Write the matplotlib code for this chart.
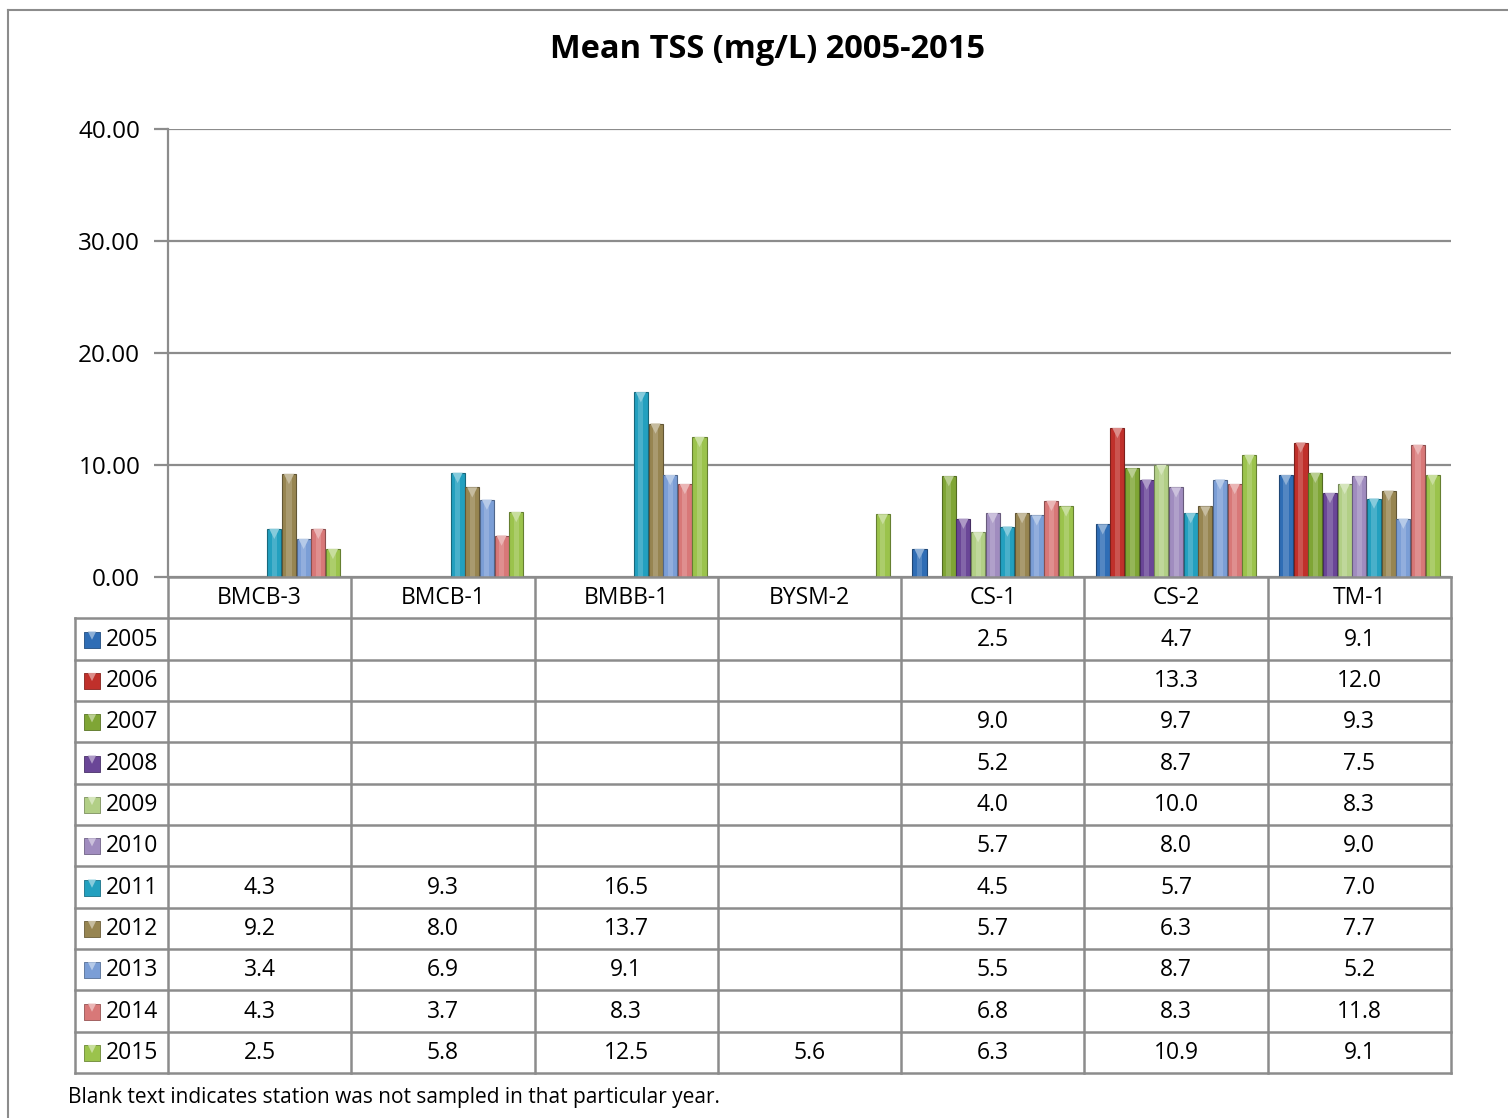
import numpy as np
import matplotlib.pyplot as plt
from matplotlib.colors import to_rgb

plt.rcParams['font.family'] = ['Open Sans', 'DejaVu Sans']

nan = np.nan
stations = ['BMCB-3', 'BMCB-1', 'BMBB-1', 'BYSM-2', 'CS-1', 'CS-2', 'TM-1']
years = ['2005', '2006', '2007', '2008', '2009', '2010',
         '2011', '2012', '2013', '2014', '2015']

tss_2005 = [nan, nan, nan, nan, 2.5, 4.7, 9.1]
tss_2006 = [nan, nan, nan, nan, nan, 13.3, 12.0]
tss_2007 = [nan, nan, nan, nan, 9.0, 9.7, 9.3]
tss_2008 = [nan, nan, nan, nan, 5.2, 8.7, 7.5]
tss_2009 = [nan, nan, nan, nan, 4.0, 10.0, 8.3]
tss_2010 = [nan, nan, nan, nan, 5.7, 8.0, 9.0]
tss_2011 = [4.3, 9.3, 16.5, nan, 4.5, 5.7, 7.0]
tss_2012 = [9.2, 8.0, 13.7, nan, 5.7, 6.3, 7.7]
tss_2013 = [3.4, 6.9, 9.1, nan, 5.5, 8.7, 5.2]
tss_2014 = [4.3, 3.7, 8.3, nan, 6.8, 8.3, 11.8]
tss_2015 = [2.5, 5.8, 12.5, 5.6, 6.3, 10.9, 9.1]

series = [tss_2005, tss_2006, tss_2007, tss_2008, tss_2009, tss_2010,
          tss_2011, tss_2012, tss_2013, tss_2014, tss_2015]

colors = ['#2f6db5', '#c0302b', '#7fa535', '#6a4697', '#b2cf86', '#a08cbf',
          '#23a0bf', '#978551', '#7b9ed6', '#d87878', '#9bc34c']

yticks = [0, 10, 20, 30, 40]


def shade(c, f):
    r = np.array(to_rgb(c))
    if f < 0:
        return tuple(r * (1 + f))
    return tuple(r + (1 - r) * f)


W, H = 1508, 1118
fig = plt.figure(figsize=(W / 100, H / 100), dpi=100)


def box(x0, y0, x1, y1):
    return [x0 / W, 1 - y1 / H, (x1 - x0) / W, (y1 - y0) / H]


# outer frame (top and left edges)
fig.add_artist(plt.Line2D([8 / W, 8 / W], [0, 1 - 10 / H], color='#8c8c8c', lw=1.5))
fig.add_artist(plt.Line2D([8 / W, 1], [1 - 10 / H, 1 - 10 / H], color='#8c8c8c', lw=1.5))

fig.text(768 / W, 1 - 50 / H, 'Mean TSS (mg/L) 2005-2015', ha='center', va='center',
         fontsize=23.5, fontweight='bold')

# --- bar chart ---
ax = fig.add_axes(box(168, 129, 1451, 577))
ax.set_xlim(0, len(stations))
ax.set_ylim(0, 40)
ngrp = len(years)
bw = 1 / (ngrp + 1.5)
for k, vals in enumerate(series):
    x = np.arange(len(stations)) + 0.75 * bw + (k + 0.5) * bw
    v = np.array(vals)
    ok = ~np.isnan(v)
    c = colors[k]
    ax.bar(x[ok], v[ok], width=bw * 0.96, color=c, edgecolor=shade(c, -0.35),
           linewidth=0.8, zorder=3)
    # lighter centre strip for a rounded look
    ax.bar(x[ok], v[ok] - 0.25, width=bw * 0.35, color=shade(c, 0.25),
           linewidth=0, zorder=4, alpha=0.7)
    ax.scatter(x[ok], v[ok] - 0.45, marker='v', s=55, color=shade(c, 0.45),
               edgecolors='none', zorder=5)

ax.set_yticks(yticks)
ax.set_yticklabels(['%.2f' % t for t in yticks], fontsize=17.5)
ax.yaxis.grid(True, color='#8c8c8c', lw=1.6, zorder=0)
ax.tick_params(axis='y', length=10, width=1.6, color='#8c8c8c', pad=10)
ax.set_xticks([])
for s in ['top', 'right', 'bottom']:
    ax.spines[s].set_visible(False)
ax.spines['left'].set_color('#8c8c8c')
ax.spines['left'].set_linewidth(1.6)

# --- data table ---
tax = fig.add_axes(box(75, 577, 1451, 1073))
lab_w = 93 / 183.3
nrow = len(years) + 1
tax.set_xlim(-lab_w, len(stations))
tax.set_ylim(nrow, 0)
tax.axis('off')
lc = '#8c8c8c'
lw = 1.8
# horizontal lines
tax.plot([0, len(stations)], [0, 0], color=lc, lw=lw, clip_on=False)
for r in range(1, nrow + 1):
    tax.plot([-lab_w, len(stations)], [r, r], color=lc, lw=lw, clip_on=False)
# vertical lines
tax.plot([-lab_w, -lab_w], [1, nrow], color=lc, lw=lw, clip_on=False)
for c in range(len(stations) + 1):
    tax.plot([c, c], [0, nrow], color=lc, lw=lw, clip_on=False)

for j, st in enumerate(stations):
    tax.text(j + 0.5, 0.52, st, ha='center', va='center', fontsize=16.5)

mx = -lab_w + 17 / 183.3
for k, (yr, vals) in enumerate(zip(years, series)):
    r = k + 1.52
    tax.scatter([mx], [r], marker='s', s=125, color=colors[k],
                edgecolors=shade(colors[k], -0.3), linewidths=0.6, clip_on=False)
    tax.scatter([mx], [r - 0.1], marker='v', s=35,
                color=shade(colors[k], 0.45), edgecolors='none', clip_on=False)
    tax.text(-lab_w + 31 / 183.3, r, yr, ha='left', va='center', fontsize=16.5)
    for j, v in enumerate(vals):
        if not np.isnan(v):
            tax.text(j + 0.5, r, '%.1f' % v, ha='center', va='center', fontsize=16.5)

fig.text(68 / W, 1 - 1098 / H,
         'Blank text indicates station was not sampled in that particular year.',
         ha='left', va='center', fontsize=15)

fig.savefig('out.png', dpi=100, facecolor='white')
